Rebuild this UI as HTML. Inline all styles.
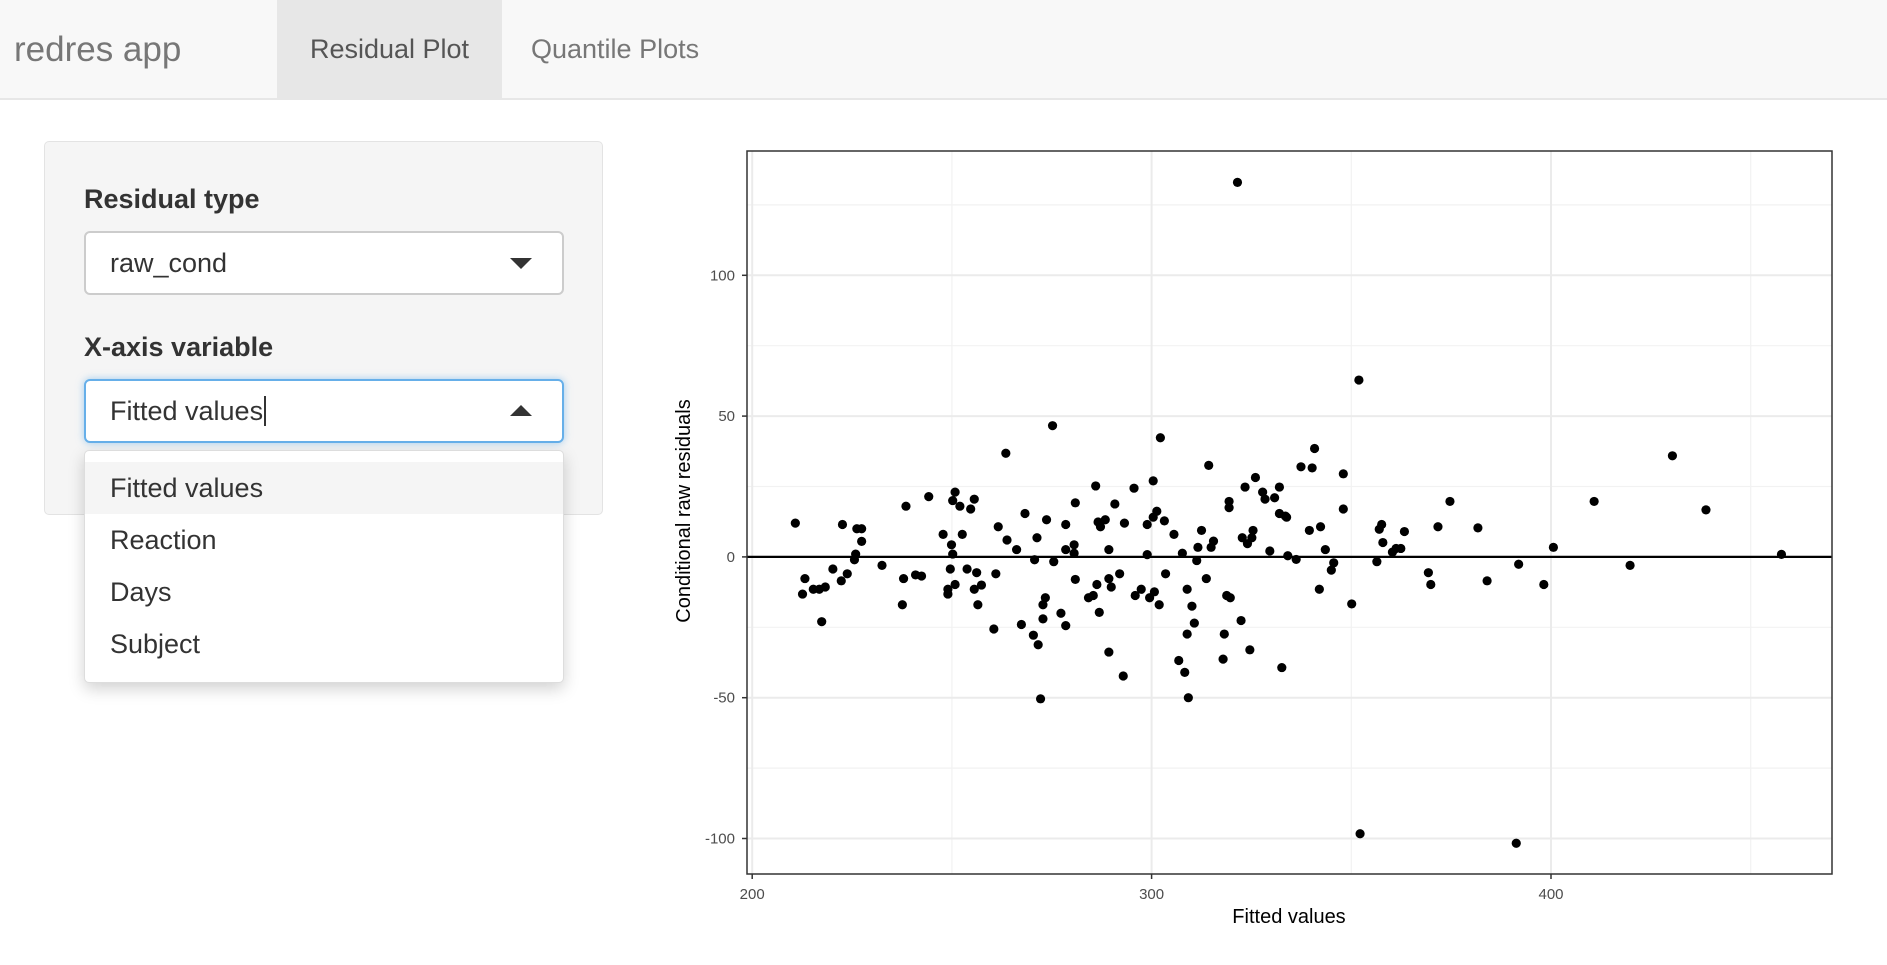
<!DOCTYPE html>
<html><head><meta charset="utf-8"><style>
body{margin:0;width:1887px;height:965px;overflow:hidden;background:#fff;font-family:"Liberation Sans",Arial,sans-serif;position:relative}
.nav{position:absolute;left:0;top:0;width:1887px;height:98px;background:#f8f8f8;border-bottom:2px solid #e7e7e7}
.brand{position:absolute;left:14px;top:30px;font-size:35px;color:#777}
.tab{position:absolute;top:0;height:98px;line-height:98px;font-size:27px;color:#777}
.well{position:absolute;left:44px;top:141px;width:557px;height:372px;background:#f5f5f5;border:1px solid #e3e3e3;border-radius:5px}
.lbl{position:absolute;left:84px;font-size:27px;font-weight:bold;color:#333}
.sel{position:absolute;left:84px;width:480px;height:64px;background:#fff;border:2px solid #ccc;border-radius:6px;box-sizing:border-box}
.sel span{position:absolute;left:24px;top:15px;font-size:27px;color:#333}
.dd{position:absolute;left:84px;top:450px;width:478px;height:231px;background:#fff;border:1px solid #ddd;border-radius:5px;box-shadow:0 6px 16px rgba(0,0,0,0.18)}
.it{position:absolute;left:0;width:478px;height:52px;line-height:52px;font-size:27px;color:#333;padding-left:25px;box-sizing:border-box}
</style></head><body>
<div class="nav">
<div class="brand">redres app</div>
<div class="tab" style="left:277px;width:225px;background:#e7e7e7;color:#555;text-align:center">Residual Plot</div>
<div class="tab" style="left:531px">Quantile Plots</div>
</div>
<div class="well"></div>
<div class="lbl" style="top:184px">Residual type</div>
<div class="sel" style="top:231px"><span>raw_cond</span>
<svg style="position:absolute;left:424px;top:25px" width="22" height="12"><polygon points="0,0 22,0 11,11" fill="#333"/></svg></div>
<div class="lbl" style="top:332px">X-axis variable</div>
<div class="sel" style="top:379px;border-color:#66afe9;box-shadow:0 0 8px rgba(102,175,233,0.6)"><span>Fitted values<span style="position:static;border-right:2px solid #333;margin-left:1px"></span></span>
<svg style="position:absolute;left:424px;top:24px" width="22" height="12"><polygon points="0,11 22,11 11,0" fill="#333"/></svg></div>
<div class="dd">
<div class="it" style="top:11px;background:#f5f5f5">Fitted values</div>
<div class="it" style="top:63px">Reaction</div>
<div class="it" style="top:115px">Days</div>
<div class="it" style="top:167px">Subject</div>
</div>
<svg id="chart" style="position:absolute;left:0;top:0" width="1887" height="965"></svg>
<script>
const xs=[210.8,212.6,213.2,215.3,216.8,218.3,217.4,220.2,222.3,222.6,223.8,225.6,225.9,226.2,227.4,227.4,232.5,237.6,237.9,238.5,240.9,242.4,244.2,247.8,249,249,249.6,249.9,250.2,250.2,250.8,250.8,252,252.6,253.8,254.7,255.6,255.6,256.2,256.5,257.4,260.5,261,261.6,263.5,263.8,266.2,267.4,268.3,270.4,270.7,271.3,271.6,272.2,272.8,272.8,273.4,273.7,275.2,275.5,277.3,278.5,278.5,278.5,280.6,280.6,280.9,280.9,284.2,285.4,286,286.3,286.6,287.2,286.9,288.4,289.3,289.3,289.3,289.9,290.8,292,292.9,293.2,295.6,295.9,297.4,298.9,298.9,299.5,300.4,300.4,300.7,301.3,301.9,302.2,303.2,303.5,305.6,306.8,307.7,308.3,308.9,308.9,309.2,310.1,310.7,311.3,311.6,312.5,313.7,314.3,314.9,315.5,317.9,318.2,318.8,319.7,319.4,319.4,321.5,322.4,322.7,323.4,324,324.6,325.1,325.4,326,327.8,328.4,329.6,330.8,332,332,332.6,333.5,333.8,334.1,336.2,337.4,339.5,340.2,340.8,342,342.3,343.5,345,345.6,348,348,350.1,351.9,352.2,356.4,357,357.6,357.9,360.3,361.2,362.4,363.3,369.3,369.9,371.7,374.7,381.7,384,391.3,391.9,398.2,400.6,410.8,419.8,430.4,438.8,457.7];
const ys=[12,-13.2,-7.7,-11.5,-11.5,-10.7,-23,-4.3,-8.5,11.5,-6,-1,1,10,10,5.5,-3,-17,-7.7,18,-6.4,-6.8,21.4,8,-11.5,-13.2,-4.3,4.3,1,20,23,-9.8,18,8,-4.3,17,-11.5,20.5,-5.6,-17,-10,-25.6,-6,10.7,36.8,6,2.6,-24,15.4,-27.8,-1,6.8,-31.2,-50.4,-22,-17,-14.5,13.2,46.6,-1.7,-20,2.6,11.5,-24.4,4.3,1.3,19.2,-8,-14.5,-13.7,25.2,-9.8,12.4,10.7,-19.7,13.2,2.6,-7.7,-33.8,-10.7,18.8,-6,-42.3,12,24.4,-13.7,-11.5,0.8,11.5,-14.5,14.1,27,-12.4,16.2,-17,42.3,12.8,-6,8,-36.8,1.3,-41,-11.5,-27.4,-50,-17.5,-23.5,-1.3,3.4,9.4,-7.7,32.5,3.4,5.6,-36.3,-27.4,-13.7,-14.5,17.5,19.7,133,-22.6,6.8,24.8,4.7,-33,6.8,9.4,28.2,23,20.5,2.1,21,15.4,24.8,-39.3,14.5,14.1,0.4,-0.9,32,9.4,31.6,38.5,-11.5,10.7,2.6,-4.7,-2.1,29.5,17,-16.7,62.8,-98.3,-1.7,9.8,11.5,5.1,1.7,3,3,9,-5.6,-9.8,10.7,19.7,10.3,-8.5,-101.7,-2.6,-9.8,3.4,19.7,-3,35.9,16.7,0.9];
const xTicks=[200,300,400];
const xMinor=[250,350,450];
const yTicks=[-100,-50,0,50,100];
const yMinor=[-75,-25,25,75,125];
const L=747,R=1832,T=151,B=874;
const X=v=>752.2+(v-200)*3.994;
const Y=v=>556.9-v*2.816;
const svg=document.getElementById('chart');
const NS='http://www.w3.org/2000/svg';
function mk(t,a){const e=document.createElementNS(NS,t);for(const k in a)e.setAttribute(k,a[k]);svg.appendChild(e);return e;}
let e=mk('rect',{x:L,y:T,width:R-L,height:B-T,fill:'#fff'});


xMinor.forEach(v=>{const g=mk('line',{x1:X(v),x2:X(v),y1:T,y2:B,stroke:'#f2f2f2','stroke-width':1.2});

});
yMinor.forEach(v=>{const g=mk('line',{x1:L,x2:R,y1:Y(v),y2:Y(v),stroke:'#f2f2f2','stroke-width':1.2});

});
xTicks.forEach(v=>{const g=mk('line',{x1:X(v),x2:X(v),y1:T,y2:B,stroke:'#ebebeb','stroke-width':2});


const t=mk('line',{x1:X(v),x2:X(v),y1:B,y2:B+5,stroke:'#333','stroke-width':1.5});


const l=mk('text',{x:X(v),y:B+25,'text-anchor':'middle','font-size':15,fill:'#4d4d4d','font-family':'Liberation Sans, sans-serif'});l.textContent=v;

});
yTicks.forEach(v=>{const g=mk('line',{x1:L,x2:R,y1:Y(v),y2:Y(v),stroke:'#ebebeb','stroke-width':2});


const t=mk('line',{x1:L-5,x2:L,y1:Y(v),y2:Y(v),stroke:'#333','stroke-width':1.5});


const l=mk('text',{x:L-12,y:Y(v)+5,'text-anchor':'end','font-size':15,fill:'#4d4d4d','font-family':'Liberation Sans, sans-serif'});l.textContent=v;

});
const z=mk('line',{x1:L,x2:R,y1:Y(0),y2:Y(0),stroke:'#000','stroke-width':2.2});


xs.forEach((v,i)=>{const c=mk('circle',{cx:X(v),cy:Y(ys[i]),r:4.6,fill:'#000'});

});
const b=mk('rect',{x:L,y:T,width:R-L,height:B-T,fill:'none',stroke:'#333','stroke-width':1.5});


const xt=mk('text',{x:1289,y:923,'text-anchor':'middle','font-size':20,fill:'#000','font-family':'Liberation Sans, sans-serif'});xt.textContent='Fitted values';


const yt=mk('text',{x:0,y:0,'text-anchor':'middle','font-size':20,fill:'#000','font-family':'Liberation Sans, sans-serif',transform:'translate(690,511) rotate(-90)'});yt.textContent='Conditional raw residuals';


</script>
</body></html>
